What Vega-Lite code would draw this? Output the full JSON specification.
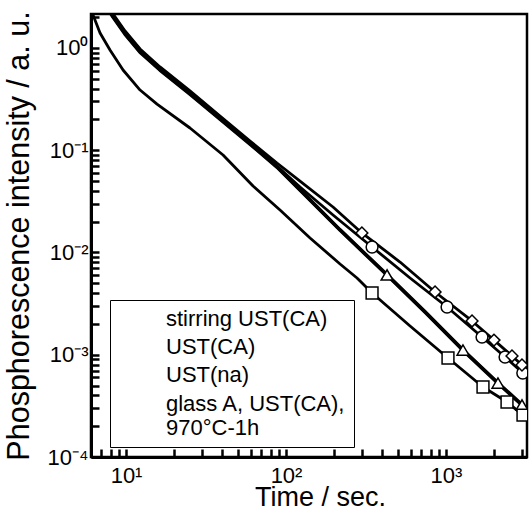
{
  "$schema": "https://vega.github.io/schema/vega-lite/v6.json",
  "width": 436,
  "height": 443,
  "autosize": "none",
  "padding": {"left": 91, "top": 14, "right": 2, "bottom": 58},
  "config": {
    "font": "Liberation Sans",
    "view": {"stroke": "black", "strokeWidth": 2.5}
  },
  "data": {
    "values": [
      {"s": "stirring UST(CA)", "t": 7.72, "y": 2.40, "m": 0},
      {"s": "stirring UST(CA)", "t": 8.30, "y": 2.01, "m": 0},
      {"s": "stirring UST(CA)", "t": 9.86, "y": 1.371, "m": 0},
      {"s": "stirring UST(CA)", "t": 12.24, "y": 0.914, "m": 0},
      {"s": "stirring UST(CA)", "t": 16.31, "y": 0.610, "m": 0},
      {"s": "stirring UST(CA)", "t": 25.1, "y": 0.355, "m": 0},
      {"s": "stirring UST(CA)", "t": 38.7, "y": 0.202, "m": 0},
      {"s": "stirring UST(CA)", "t": 59.6, "y": 0.1151, "m": 0},
      {"s": "stirring UST(CA)", "t": 87.8, "y": 0.0686, "m": 0},
      {"s": "stirring UST(CA)", "t": 122.3, "y": 0.0409, "m": 0},
      {"s": "stirring UST(CA)", "t": 217.6, "y": 0.0166, "m": 0},
      {"s": "stirring UST(CA)", "t": 428, "y": 0.00603, "m": 1},
      {"s": "stirring UST(CA)", "t": 739, "y": 0.00262, "m": 0},
      {"s": "stirring UST(CA)", "t": 1277, "y": 0.00111, "m": 1},
      {"s": "stirring UST(CA)", "t": 2113, "y": 0.000529, "m": 1},
      {"s": "stirring UST(CA)", "t": 2985, "y": 0.000323, "m": 1},
      {"s": "stirring UST(CA)", "t": 3400, "y": 0.000272, "m": 0},

      {"s": "UST(CA)", "t": 7.72, "y": 2.46, "m": 0},
      {"s": "UST(CA)", "t": 8.30, "y": 2.10, "m": 0},
      {"s": "UST(CA)", "t": 9.86, "y": 1.434, "m": 0},
      {"s": "UST(CA)", "t": 12.24, "y": 0.956, "m": 0},
      {"s": "UST(CA)", "t": 16.31, "y": 0.638, "m": 0},
      {"s": "UST(CA)", "t": 25.1, "y": 0.371, "m": 0},
      {"s": "UST(CA)", "t": 38.7, "y": 0.2114, "m": 0},
      {"s": "UST(CA)", "t": 59.6, "y": 0.1204, "m": 0},
      {"s": "UST(CA)", "t": 87.8, "y": 0.0701, "m": 0},
      {"s": "UST(CA)", "t": 122.3, "y": 0.0437, "m": 0},
      {"s": "UST(CA)", "t": 196.7, "y": 0.02326, "m": 0},
      {"s": "UST(CA)", "t": 345, "y": 0.01132, "m": 1},
      {"s": "UST(CA)", "t": 596, "y": 0.00563, "m": 0},
      {"s": "UST(CA)", "t": 1015, "y": 0.00293, "m": 1},
      {"s": "UST(CA)", "t": 1679, "y": 0.00149, "m": 1},
      {"s": "UST(CA)", "t": 2339, "y": 0.000951, "m": 1},
      {"s": "UST(CA)", "t": 3020, "y": 0.000663, "m": 1},
      {"s": "UST(CA)", "t": 3396, "y": 0.000566, "m": 0},

      {"s": "UST(na)", "t": 7.72, "y": 2.52, "m": 0},
      {"s": "UST(na)", "t": 8.30, "y": 2.15, "m": 0},
      {"s": "UST(na)", "t": 9.86, "y": 1.467, "m": 0},
      {"s": "UST(na)", "t": 12.24, "y": 0.978, "m": 0},
      {"s": "UST(na)", "t": 16.31, "y": 0.653, "m": 0},
      {"s": "UST(na)", "t": 25.1, "y": 0.380, "m": 0},
      {"s": "UST(na)", "t": 38.7, "y": 0.2163, "m": 0},
      {"s": "UST(na)", "t": 59.6, "y": 0.1232, "m": 0},
      {"s": "UST(na)", "t": 87.8, "y": 0.0750, "m": 0},
      {"s": "UST(na)", "t": 122.3, "y": 0.0500, "m": 0},
      {"s": "UST(na)", "t": 196.7, "y": 0.02786, "m": 0},
      {"s": "UST(na)", "t": 298, "y": 0.01552, "m": 1},
      {"s": "UST(na)", "t": 516, "y": 0.00807, "m": 0},
      {"s": "UST(na)", "t": 854, "y": 0.00411, "m": 1},
      {"s": "UST(na)", "t": 1454, "y": 0.00214, "m": 1},
      {"s": "UST(na)", "t": 1995, "y": 0.00139, "m": 1},
      {"s": "UST(na)", "t": 2585, "y": 0.000973, "m": 1},
      {"s": "UST(na)", "t": 2985, "y": 0.000794, "m": 1},
      {"s": "UST(na)", "t": 3396, "y": 0.000678, "m": 0},

      {"s": "glass A, UST(CA), 970°C-1h", "t": 5.96, "y": 2.46, "m": 0},
      {"s": "glass A, UST(CA), 970°C-1h", "t": 6.22, "y": 2.10, "m": 0},
      {"s": "glass A, UST(CA), 970°C-1h", "t": 6.88, "y": 1.402, "m": 0},
      {"s": "glass A, UST(CA), 970°C-1h", "t": 7.94, "y": 0.956, "m": 0},
      {"s": "glass A, UST(CA), 970°C-1h", "t": 9.58, "y": 0.609, "m": 0},
      {"s": "glass A, UST(CA), 970°C-1h", "t": 12.24, "y": 0.388, "m": 0},
      {"s": "glass A, UST(CA), 970°C-1h", "t": 15.62, "y": 0.283, "m": 0},
      {"s": "glass A, UST(CA), 970°C-1h", "t": 25.1, "y": 0.165, "m": 0},
      {"s": "glass A, UST(CA), 970°C-1h", "t": 40.4, "y": 0.0899, "m": 0},
      {"s": "glass A, UST(CA), 970°C-1h", "t": 62.2, "y": 0.0447, "m": 0},
      {"s": "glass A, UST(CA), 970°C-1h", "t": 91.7, "y": 0.0260, "m": 0},
      {"s": "glass A, UST(CA), 970°C-1h", "t": 141.3, "y": 0.01386, "m": 0},
      {"s": "glass A, UST(CA), 970°C-1h", "t": 217.6, "y": 0.00772, "m": 0},
      {"s": "glass A, UST(CA), 970°C-1h", "t": 277.8, "y": 0.00563, "m": 0},
      {"s": "glass A, UST(CA), 970°C-1h", "t": 345, "y": 0.00402, "m": 1},
      {"s": "glass A, UST(CA), 970°C-1h", "t": 596, "y": 0.00191, "m": 0},
      {"s": "glass A, UST(CA), 970°C-1h", "t": 1029, "y": 0.000929, "m": 1},
      {"s": "glass A, UST(CA), 970°C-1h", "t": 1703, "y": 0.000484, "m": 1},
      {"s": "glass A, UST(CA), 970°C-1h", "t": 2406, "y": 0.000345, "m": 1},
      {"s": "glass A, UST(CA), 970°C-1h", "t": 3028, "y": 0.000257, "m": 1},
      {"s": "glass A, UST(CA), 970°C-1h", "t": 3396, "y": 0.000225, "m": 0}
    ]
  },
  "layer": [
    {
      "mark": {"type": "line", "color": "black", "clip": true, "strokeWidth": 2.8, "strokeJoin": "round"},
      "encoding": {
        "x": {
          "field": "t", "type": "quantitative",
          "scale": {"type": "log", "domain": [6.04, 3208], "nice": false},
          "axis": {
            "orient": "bottom", "grid": false,
            "values": [7, 8, 9, 10, 20, 30, 40, 50, 60, 70, 80, 90, 100, 200, 300, 400, 500, 600, 700, 800, 900, 1000, 2000, 3000],
            "labelExpr": "indexof([10,100,1000], datum.value) >= 0 ? '10' + ['⁰','¹','²','³'][round(log(datum.value)/LN10)] : ''",
            "labelOverlap": false,
            "labelFontSize": 22, "labelColor": "black", "labelPadding": 16,
            "tickSize": -8,
            "tickWidth": 2.5, "tickColor": "black",
            "domainWidth": 3, "domainColor": "black",
            "title": "Time / sec.", "titleFontSize": 27, "titleFontWeight": "normal",
            "titleColor": "black", "titleX": 229, "titleY": 48, "titleBaseline": "alphabetic"
          }
        },
        "y": {
          "field": "y", "type": "quantitative",
          "scale": {"type": "log", "domain": [0.0001, 2.15], "nice": false},
          "axis": {
            "orient": "left", "grid": false,
            "values": [0.0001, 0.0002, 0.0003, 0.0004, 0.0005, 0.0006, 0.0007, 0.0008, 0.0009, 0.001, 0.002, 0.003, 0.004, 0.005, 0.006, 0.007, 0.008, 0.009, 0.01, 0.02, 0.03, 0.04, 0.05, 0.06, 0.07, 0.08, 0.09, 0.1, 0.2, 0.3, 0.4, 0.5, 0.6, 0.7, 0.8, 0.9, 1, 2],
            "labelExpr": "indexof([0.0001,0.001,0.01,0.1,1], datum.value) >= 0 ? '10' + ['⁻⁴','⁻³','⁻²','⁻¹','⁰'][round(log(datum.value)/LN10)+4] : ''",
            "labelOverlap": false,
            "labelFontSize": 22, "labelColor": "black", "labelPadding": 11,
            "tickSize": -8,
            "tickWidth": 2.5, "tickColor": "black",
            "domainWidth": 3, "domainColor": "black",
            "title": "Phosphorescence intensity / a. u.", "titleFontSize": 30.5,
            "titleFontWeight": "normal", "titleColor": "black", "titleX": -57
          }
        },
        "detail": {"field": "s", "type": "nominal"}
      }
    },
    {
      "transform": [{"filter": "datum.s == 'stirring UST(CA)'"}],
      "mark": {"type": "line", "color": "black", "clip": true, "strokeWidth": 3.8, "strokeJoin": "round"},
      "encoding": {
        "x": {"field": "t", "type": "quantitative"},
        "y": {"field": "y", "type": "quantitative"}
      }
    },
    {
      "transform": [{"filter": "datum.m == 1"}],
      "mark": {"type": "point", "filled": true, "fill": "white", "stroke": "black", "strokeWidth": 1.5, "size": 140, "opacity": 1, "clip": true},
      "encoding": {
        "x": {"field": "t", "type": "quantitative"},
        "y": {"field": "y", "type": "quantitative"},
        "shape": {
          "field": "s", "type": "nominal",
          "scale": {
            "domain": ["stirring UST(CA)", "UST(CA)", "UST(na)", "glass A, UST(CA), 970°C-1h"],
            "range": ["triangle-up", "circle", "diamond", "square"]
          },
          "legend": {
            "title": null, "orient": "none", "legendX": 19, "legendY": 286,
            "symbolSize": 400, "symbolStrokeWidth": 1.5, "symbolFillColor": "white",
            "symbolStrokeColor": "black", "symbolOpacity": 1,
            "labelFontSize": 22, "labelColor": "black", "labelLimit": 400, "labelOffset": 26,
            "rowPadding": 2.5, "padding": 8, "strokeColor": "black", "fillColor": "white",
            "labelExpr": "datum.label == 'glass A, UST(CA), 970°C-1h' ? ['glass A, UST(CA),', '970°C-1h'] : datum.label",
            "encode": {
              "legend": {"update": {"strokeWidth": {"value": 2}}},
              "symbols": {"update": {
                "shape": {"signal": "datum.value == 'stirring UST(CA)' ? 'M-1,-0.07H0.78M1.62,-0.07H3.4M-1,0.07H0.84M1.56,0.07H3.4M1.2,-0.65L1.85,0.5L0.55,0.5Z' : datum.value == 'UST(CA)' ? 'M-1,0H0.65M1.75,0H3.4M0.65,0A0.55,0.55,0,1,0,1.75,0A0.55,0.55,0,1,0,0.65,0Z' : datum.value == 'UST(na)' ? 'M-1,0H0.55M1.85,0H3.4M1.2,-0.65L1.85,0L1.2,0.65L0.55,0Z' : 'M-1,-0.07H0.65M1.75,-0.07H3.4M-1,0.07H0.65M1.75,0.07H3.4M0.65,-0.55H1.75V0.55H0.65Z'"},
                "size": {"value": 400},
                "stroke": {"value": "black"}, "fill": {"value": "white"},
                "strokeWidth": {"value": 1.5}, "opacity": {"value": 1},
                "fillOpacity": {"value": 1}, "strokeOpacity": {"value": 1}
              }},
              "labels": {"update": {"lineHeight": {"value": 24}}}
            }
          }
        }
      }
    }
  ]
}
